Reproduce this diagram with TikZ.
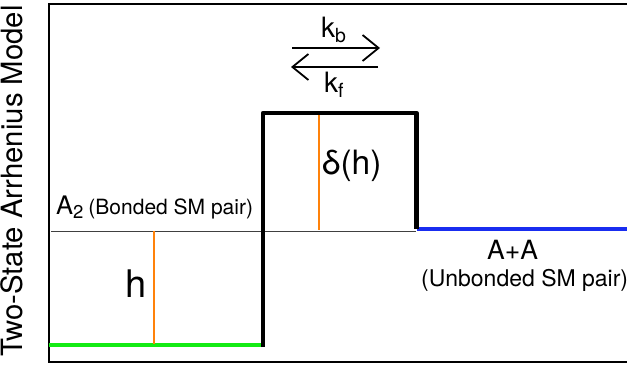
\documentclass[tikz,border=0pt]{standalone}
\usepackage{fontspec}
\setmainfont{TeX Gyre Heros}
\usetikzlibrary{arrows.meta}
\definecolor{lowgreen}{RGB}{20,235,20}
\definecolor{highblue}{RGB}{25,45,240}
\definecolor{gaporange}{RGB}{255,130,10}
\newcommand{\fs}[1]{\fontsize{#1}{#1}\selectfont}
\tikzset{
  frameline/.style={line width=2pt, black},
  barrier/.style={line width=4.5pt, black, line join=round},
  greenlvl/.style={line width=4pt, lowgreen},
  bluelvl/.style={line width=4pt, highblue},
  refline/.style={line width=0.9pt, black!75},
  gapline/.style={line width=1.8pt, gaporange},
  rate/.style={line width=1.8pt, -{Straight Barb[length=16pt,width=26pt]}},
  lbl/.style={inner sep=0pt, anchor=base west}
}
\begin{document}
\begin{tikzpicture}[x=1pt,y=-1pt]
\useasboundingbox (0,0) rectangle (627,371);
% frame
\coordinate (ftr) at (627,4.5);
\coordinate (ftl) at (49,4.5);
\coordinate (fbl) at (49,362);
\coordinate (fbr) at (627,362);
\draw[frameline] (ftr) -- (ftl) -- (fbl) -- (fbr);
% levels
\coordinate (g0) at (49,345.5);
\coordinate (g1) at (264,345.5);
\coordinate (b0) at (263,347);
\coordinate (b1) at (263,113);
\coordinate (b2) at (416.5,113);
\coordinate (b3) at (416.5,229);
\coordinate (u0) at (416.5,229);
\coordinate (u1) at (627,229);
\coordinate (r0) at (51,231);
\coordinate (r1) at (416,231);
\draw[refline] (r0) -- (r1);
\draw[greenlvl] (g0) -- (g1);
\draw[bluelvl] (u0) -- (u1);
\draw[barrier] (b0) -- (b1) -- (b2) -- (b3);
% orange heights
\coordinate (o1a) at (154,231);
\coordinate (o1b) at (154,344);
\coordinate (o2a) at (319,115);
\coordinate (o2b) at (319,230);
\draw[gapline] (o1a) -- (o1b);
\draw[gapline] (o2a) -- (o2b);
% rate arrows
\coordinate (ka0) at (292,48);
\coordinate (ka1) at (380,48);
\coordinate (kf0) at (378,67);
\coordinate (kf1) at (291,67);
\draw[rate] (ka0) -- (ka1);
\draw[rate] (kf0) -- (kf1);
% labels
\node[lbl] (kb) at (321,38) {\fs{28}k\raisebox{-5pt}{\fs{19.5}b}};
\node[lbl] (kf) at (324,93) {\fs{28}k\raisebox{-5pt}{\fs{19.5}f}};
\node[lbl] (dh) at (322,175) {\fs{33.5}δ(h)};
\node[lbl] (h) at (125,298) {\fs{38}h};
\node[lbl] (a2) at (56,215) {\fs{25.5}A\raisebox{-4pt}{\fs{18.5}2}\hspace{5pt}{\fs{21}(Bonded SM pair)}};
\node[lbl] (aa) at (487,260) {\fs{26.5}A+A};
\node[lbl] (ub) at (421,287) {\fs{23}(Unbonded SM pair)};
\node[rotate=90, anchor=base, inner sep=0pt] (ylab) at (22,181) {\fs{29.3}Two-State Arrhenius Model};
\end{tikzpicture}
\end{document}
